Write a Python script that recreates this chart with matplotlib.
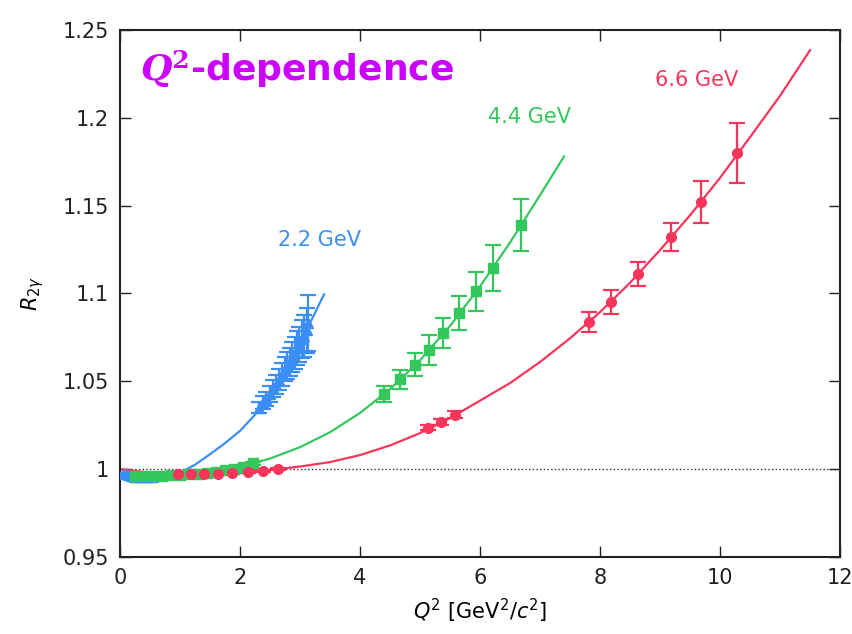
import matplotlib
matplotlib.use("Agg")
import matplotlib.pyplot as plt
from matplotlib.ticker import FuncFormatter

# 2.2 GeV (blue triangles)
q2_22 = [0.08, 0.13, 0.18, 0.24, 0.30, 0.36, 0.42, 0.48, 0.55,
         2.32, 2.38, 2.44, 2.50, 2.55, 2.60, 2.65, 2.70, 2.75, 2.79,
         2.83, 2.87, 2.91, 2.95, 2.99, 3.03, 3.07, 3.11, 3.14]
r_22 = [0.9972, 0.9965, 0.9961, 0.9958, 0.9956, 0.9955, 0.9954, 0.9955, 0.9956,
        1.035, 1.038, 1.040, 1.043, 1.046, 1.048, 1.051, 1.054, 1.057, 1.059,
        1.061, 1.064, 1.066, 1.069, 1.071, 1.074, 1.076, 1.079, 1.083]
err_22 = [0.0008, 0.0008, 0.0008, 0.0008, 0.0008, 0.0008, 0.0008, 0.0008, 0.0008,
          0.003, 0.0035, 0.004, 0.0045, 0.005, 0.0055, 0.006, 0.0065, 0.007, 0.0075,
          0.008, 0.0085, 0.009, 0.0095, 0.010, 0.011, 0.012, 0.013, 0.016]
fit_q2_22 = [0, 0.25, 0.5, 0.75, 1.0, 1.25, 1.5, 1.75, 2.0, 2.25, 2.5, 2.75, 3.0, 3.25, 3.4]
fit_r_22 = [1.0, 0.9955, 0.9938, 0.9945, 0.998, 1.0025, 1.0085, 1.0148, 1.0218,
            1.031, 1.0425, 1.056, 1.0715, 1.089, 1.0995]

# 4.4 GeV (green squares)
q2_44 = [0.25, 0.40, 0.55, 0.70, 0.85, 1.00, 1.15, 1.30, 1.45, 1.60, 1.75, 1.90, 2.05, 2.22,
         4.40, 4.67, 4.92, 5.15, 5.39, 5.65, 5.93, 6.21, 6.68]
r_44 = [0.9963, 0.9961, 0.9961, 0.9962, 0.9964, 0.9967, 0.9971, 0.9975, 0.9980, 0.9986,
        0.9993, 1.0003, 1.0015, 1.0033,
        1.0428, 1.0512, 1.0595, 1.0679, 1.0774, 1.0888, 1.1013, 1.1144, 1.139]
err_44 = [0.0008] * 14 + [0.0044, 0.0055, 0.0066, 0.0084, 0.0086, 0.0096, 0.0112, 0.013, 0.0148]
fit_q2_44 = [0, 0.5, 1.0, 1.5, 2.0, 2.5, 3.0, 3.5, 4.0, 4.5, 5.0, 5.5, 6.0, 6.5, 7.0, 7.4]
fit_r_44 = [1.0, 0.9962, 0.9968, 0.9985, 1.0015, 1.006, 1.0125, 1.021, 1.032, 1.0455,
            1.062, 1.0815, 1.104, 1.129, 1.156, 1.178]

# 6.6 GeV (red circles)
q2_66 = [0.97, 1.18, 1.40, 1.63, 1.87, 2.13, 2.38, 2.63,
         5.13, 5.35, 5.58,
         7.82, 8.18, 8.63, 9.18, 9.68, 10.28]
r_66 = [0.9971, 0.9971, 0.9973, 0.9973, 0.9977, 0.9981, 0.9988, 1.0,
        1.0235, 1.0269, 1.0309,
        1.0838, 1.0952, 1.111, 1.132, 1.152, 1.180]
err_66 = [0.0005] * 8 + [0.0015, 0.0018, 0.002,
                         0.0057, 0.0069, 0.0067, 0.0079, 0.012, 0.017]
fit_q2_66 = [0, 0.5, 1.0, 1.5, 2.0, 2.5, 3.0, 3.5, 4.0, 4.5, 5.0, 5.5, 6.0, 6.5,
             7.0, 7.5, 8.0, 8.5, 9.0, 9.5, 10.0, 10.5, 11.0, 11.5]
fit_r_66 = [1.0, 0.998, 0.9972, 0.9975, 0.9982, 0.9995, 1.0015, 1.004, 1.008, 1.0135,
            1.0205, 1.029, 1.039, 1.049, 1.061, 1.0745, 1.0894, 1.1061, 1.1247, 1.1445,
            1.1658, 1.189, 1.2125, 1.2385]

blue = "#3a8ef6"
green = "#34c85c"
red = "#f7355b"

fig = plt.figure(figsize=(8.53, 6.34), dpi=100)
ax = fig.add_axes([0.1407, 0.1215, 0.8441, 0.8312])

ax.plot([0, 12], [1, 1], ls=":", color="#333333", lw=1.0, zorder=1)

series = [
    (q2_22, r_22, err_22, fit_q2_22, fit_r_22, blue, "^", 7.5),
    (q2_44, r_44, err_44, fit_q2_44, fit_r_44, green, "s", 6.5),
    (q2_66, r_66, err_66, fit_q2_66, fit_r_66, red, "o", 7),
]
for q, r, e, fq, fr, col, mk, ms in series:
    ax.plot(fq, fr, color=col, lw=1.6, zorder=2, solid_joinstyle="round")
    ax.errorbar(q, r, yerr=e, fmt=mk, color=col, ms=ms, elinewidth=1.6,
                capsize=5.5, capthick=1.6, zorder=3)

ax.text(2.63, 1.1305, "2.2 GeV", color=blue, fontsize=15, va="center", ha="left")
ax.text(6.13, 1.2006, "4.4 GeV", color=green, fontsize=15, va="center", ha="left")
ax.text(8.92, 1.2216, "6.6 GeV", color=red, fontsize=15, va="center", ha="left")

ax.text(0.33, 1.228, r"$\mathbfit{Q}^{\mathbf{2}}$-dependence", color="#cc00ff",
        fontsize=26, fontweight="bold", va="center", ha="left",
        math_fontfamily="dejavuserif")

ax.set_xlim(0, 12)
ax.set_ylim(0.95, 1.25)
ax.set_xticks([0, 2, 4, 6, 8, 10, 12])
ax.set_yticks([0.95, 1.0, 1.05, 1.1, 1.15, 1.2, 1.25])
ax.yaxis.set_major_formatter(FuncFormatter(lambda v, p: "%g" % round(v, 2)))
ax.tick_params(direction="in", length=8, width=1, top=True, right=True,
               labelsize=15, pad=8, colors="#222222")
for s in ax.spines.values():
    s.set_linewidth(1.5)
    s.set_color("#222222")

ax.set_xlabel(r"$Q^2$ [GeV$^2$/$c^2$]", fontsize=15, labelpad=6)
ax.set_ylabel(r"$R_{2\gamma}$", fontsize=15, labelpad=12)

fig.savefig("out.png", dpi=100)
